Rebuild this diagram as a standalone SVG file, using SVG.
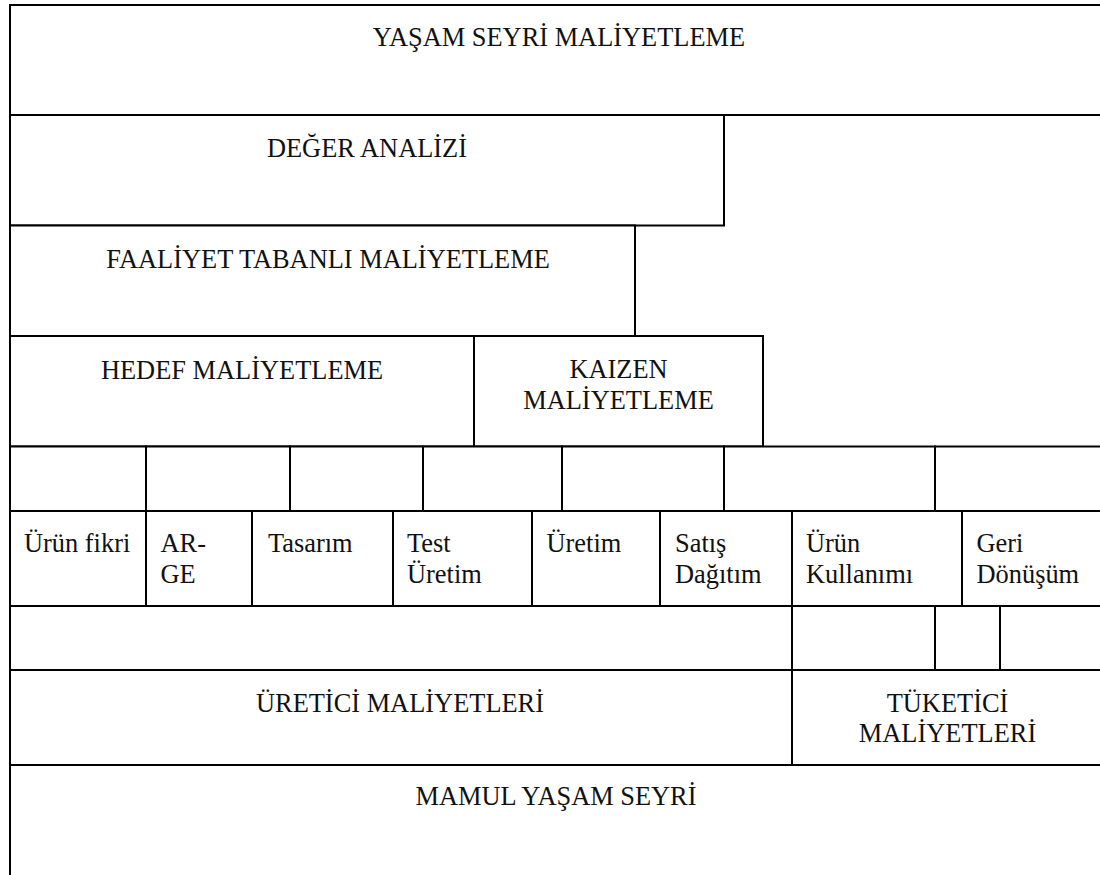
<svg xmlns="http://www.w3.org/2000/svg" width="1100" height="875" viewBox="0 0 1100 875">
<style>
rect{fill:#fff;stroke:#000;stroke-width:2}
text{font-family:"Liberation Serif","Times New Roman",serif;font-size:26.4px;fill:#111}
.c{text-anchor:middle}
</style>
<rect x="0" y="0" width="1100" height="875" style="stroke:none"/>
<g id="yasam-seyri-maliyetleme"><rect x="10" y="5" width="1100" height="110"/><text class="c" x="559" y="46">YAŞAM SEYRİ MALİYETLEME</text></g>
<g id="deger-analizi"><rect x="10" y="115" width="714" height="110.5"/><text class="c" x="367" y="157">DEĞER ANALİZİ</text></g>
<g id="faaliyet-tabanli"><rect x="10" y="225.5" width="625" height="110.5"/><text class="c" x="328" y="268">FAALİYET TABANLI MALİYETLEME</text></g>
<g id="hedef-maliyetleme"><rect x="10" y="336" width="464" height="110.5"/><text class="c" x="242" y="379">HEDEF MALİYETLEME</text></g>
<g id="kaizen-maliyetleme"><rect x="474" y="336" width="289" height="110.5"/><text class="c" x="618.5" y="378">KAIZEN</text><text class="c" x="618.5" y="409">MALİYETLEME</text></g>
<g id="bos-satir-1">
<rect x="10" y="446.5" width="136" height="64.5"/><rect x="146" y="446.5" width="144" height="64.5"/><rect x="290" y="446.5" width="133" height="64.5"/><rect x="423" y="446.5" width="139" height="64.5"/><rect x="562" y="446.5" width="162" height="64.5"/><rect x="724" y="446.5" width="211" height="64.5"/><rect x="935" y="446.5" width="175" height="64.5"/>
</g>
<g id="urun-fikri"><rect x="10" y="511" width="136" height="95"/><text x="24" y="552">Ürün fikri</text></g>
<g id="ar-ge"><rect x="146" y="511" width="106" height="95"/><text x="160.5" y="552">AR-</text><text x="160.5" y="583">GE</text></g>
<g id="tasarim"><rect x="252" y="511" width="141" height="95"/><text x="268" y="552">Tasarım</text></g>
<g id="test-uretim"><rect x="393" y="511" width="139" height="95"/><text x="407" y="552">Test</text><text x="407" y="583">Üretim</text></g>
<g id="uretim"><rect x="532" y="511" width="128" height="95"/><text x="546.5" y="552">Üretim</text></g>
<g id="satis-dagitim"><rect x="660" y="511" width="132" height="95"/><text x="675" y="552">Satış</text><text x="675" y="583">Dağıtım</text></g>
<g id="urun-kullanimi"><rect x="792" y="511" width="170" height="95"/><text x="806" y="552">Ürün</text><text x="806" y="583">Kullanımı</text></g>
<g id="geri-donusum"><rect x="962" y="511" width="148" height="95"/><text x="976.5" y="552">Geri</text><text x="976.5" y="583">Dönüşüm</text></g>
<g id="bos-satir-2">
<rect x="10" y="606" width="782" height="64"/><rect x="792" y="606" width="143" height="64"/><rect x="935" y="606" width="65" height="64"/><rect x="1000" y="606" width="110" height="64"/>
</g>
<g id="uretici-maliyetleri"><rect x="10" y="670" width="782" height="95"/><text class="c" x="400" y="712">ÜRETİCİ MALİYETLERİ</text></g>
<g id="tuketici-maliyetleri"><rect x="792" y="670" width="318" height="95"/><text class="c" x="947.5" y="712">TÜKETİCİ</text><text class="c" x="947.5" y="742">MALİYETLERİ</text></g>
<g id="mamul-yasam-seyri"><rect x="10" y="765" width="1100" height="120"/><text class="c" x="556" y="805">MAMUL YAŞAM SEYRİ</text></g>
</svg>
